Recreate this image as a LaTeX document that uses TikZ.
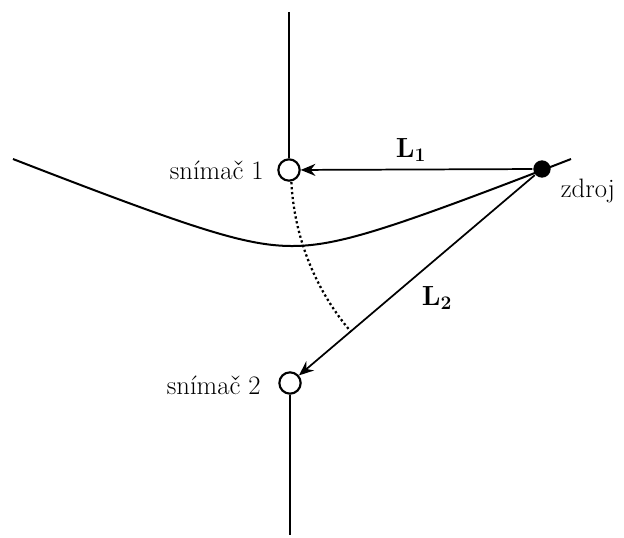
\documentclass[tikz,border=0pt]{standalone}
\usetikzlibrary{arrows.meta}
\begin{document}
\begin{tikzpicture}[x=0.75pt,y=-0.75pt,
  line width=1.3pt,
  sensor/.style={circle,draw,line width=1.6pt,minimum size=16pt,inner sep=0pt,fill=white},
  src/.style={circle,fill=black,minimum size=13pt,inner sep=0pt},
  lbl/.style={font=\fontsize{20}{24}\selectfont},
  arr/.style={-{Stealth[length=11pt,width=9pt]},line width=1.3pt}]
\useasboundingbox (0,0) rectangle (624,538);
% hyperbola
\draw[line width=1.5pt] plot[domain=13:571,samples=120,smooth] (\x,{274.1-sqrt(789+(0.4*(\x-292))^2)});
% nodes
\node[sensor] (s1) at (289,170) {};
\node[sensor] (s2) at (290,383) {};
\node[src] (z) at (542,169) {};
\coordinate (top) at (289,12);
\coordinate (bot) at (290,535);
\draw[line width=1.2pt] (top) -- (s1.north);
\draw[line width=1.2pt] (s2.south) -- (bot);
% dotted arc centred on source
\draw[dotted,line width=1.7pt] plot[domain=177:139.5,samples=60,smooth] ({542+251*cos(\x)},{169+251*sin(\x)});
% arrows
\draw[arr] (z) -- (s1);
\draw[arr] (z) -- (s2);
% labels
\node[lbl,anchor=east] (t1) at (269,170) {snímač 1};
\node[lbl,anchor=east] (t2) at (266,385) {snímač 2};
\node[lbl] (l1) at (411,150) {$\mathbf{L_1}$};
\node[lbl] (l2) at (437,298) {$\mathbf{L_2}$};
\node[lbl] (tz) at (588,191) {zdroj};
\end{tikzpicture}
\end{document}
